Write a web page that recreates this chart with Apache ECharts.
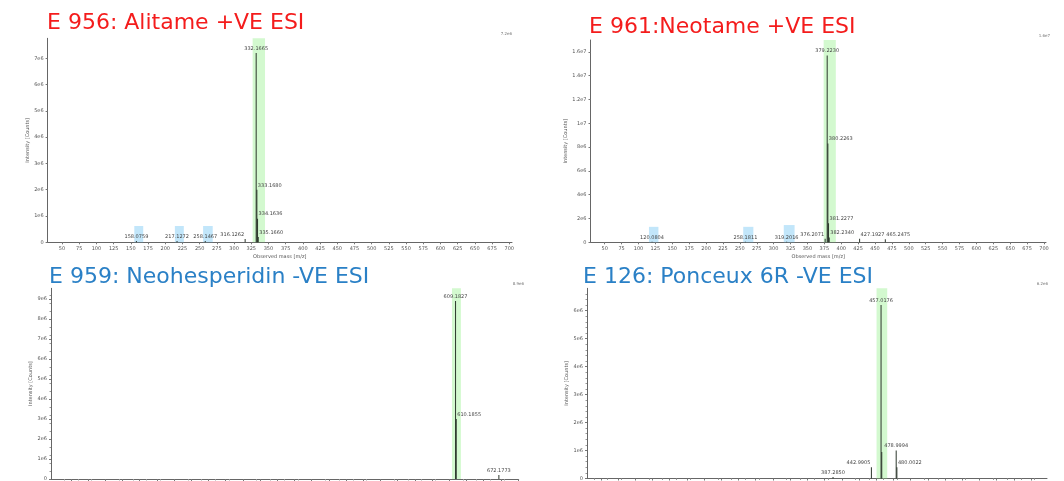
<!DOCTYPE html>
<html>
<head>
<meta charset="utf-8">
<script src="https://cdn.jsdelivr.net/npm/echarts@6/dist/echarts.min.js"></script>
<style>
html, body { margin: 0; padding: 0; background: #fff; }
#main { width: 1064px; height: 481px; }
</style>
</head>
<body>
<div id="main"></div>
<script>
// mass axis ticks (same for all four spectra)
const massTicks = [50, 75, 100, 125, 150, 175, 200, 225, 250, 275, 300, 325, 350, 375, 400,
  425, 450, 475, 500, 525, 550, 575, 600, 625, 650, 675, 700];

// E 956 Alitame +VE
const alitameMass = [158.0759, 217.1272, 258.1467, 316.1262, 332.1665, 333.1680, 334.1636, 335.1660];
const alitameCounts = [5e4, 5e4, 5e4, 1.3e5, 7.2e6, 2.0e6, 9.0e5, 2.0e5];
const alitameLabels = ['158.0759', '217.1272', '258.1467', '316.1262', '332.1665', '333.1680', '334.1636', '335.1660'];
const alitameTicks = [0, 1e6, 2e6, 3e6, 4e6, 5e6, 6e6, 7e6];
const alitameMatch = [327, 345];
const alitameFrags = [[155, 168], [214, 227], [255, 269]];
const alitameFragTop = [6.2e5, 6.2e5, 6.2e5];

// E 961 Neotame +VE
const neotameMass = [120.0804, 258.1811, 319.2016, 376.2071, 379.2230, 380.2263, 381.2277, 382.2340, 427.1927, 465.2475];
const neotameCounts = [5e4, 5e4, 5e4, 3e5, 1.57e7, 8.3e6, 1.6e6, 4e5, 3e5, 2.5e5];
const neotameLabels = ['120.0804', '258.1811', '319.2016', '376.2071', '379.2230', '380.2263', '381.2277', '382.2340', '427.1927', '465.2475'];
const neotameTicks = [0, 2e6, 4e6, 6e6, 8e6, 1e7, 1.2e7, 1.4e7, 1.6e7];
const neotameMatch = [374, 392];
const neotameFrags = [[115.5, 129.5], [255, 270], [315, 331]];
const neotameFragTop = [1.3e6, 1.3e6, 1.45e6];

// E 959 Neohesperidin -VE
const neohespMass = [609.1827, 610.1855, 672.1773];
const neohespCounts = [8.9e6, 3.0e6, 2e5];
const neohespLabels = ['609.1827', '610.1855', '672.1773'];
const neohespTicks = [0, 1e6, 2e6, 3e6, 4e6, 5e6, 6e6, 7e6, 8e6, 9e6];
const neohespMatch = [604, 617];

// E 126 Ponceux 6R -VE
const ponceauMass = [387.2850, 442.9905, 457.0176, 458.0205, 478.9994, 480.0022];
const ponceauCounts = [5e4, 4e5, 6.2e6, 9.5e5, 1.0e6, 4e5];
const ponceauLabels = ['387.2850', '442.9905', '457.0176', '', '478.9994', '480.0022'];
const ponceauTicks = [0, 1e6, 2e6, 3e6, 4e6, 5e6, 6e6];
const ponceauMatch = [450.5, 466];

// which peak labels sit beside the stick instead of centred on it
const labelAlign = {
  '316.1262': 'right', '333.1680': 'left', '334.1636': 'left', '335.1660': 'left',
  '376.2071': 'right', '380.2263': 'left', '381.2277': 'left', '382.2340': 'left',
  '427.1927': 'left', '465.2475': 'left', '610.1855': 'left',
  '442.9905': 'right', '480.0022': 'left'
};

const font = 'DejaVu Sans';
const red = '#f41c1c';
const blue = '#2a80c6';

function countFmt(v) {
  if (v === 0) return '0';
  const e = Math.floor(Math.log10(v) + 1e-9);
  const m = Math.round(v / Math.pow(10, e) * 10) / 10;
  return m + 'e' + e;
}

function panelAxes(i, min, max, yMax, yTicks, minor) {
  const axisLine = { lineStyle: { color: '#666', width: 1 } };
  return {
    x: {
      type: 'value', gridIndex: i, min: min, max: max,
      splitLine: { show: false },
      axisLine: axisLine,
      axisTick: { customValues: massTicks, length: 2, lineStyle: { color: '#777' } },
      minorTick: { show: minor, splitNumber: 5, length: 1.5, lineStyle: { color: '#999' } },
      axisLabel: { customValues: massTicks, fontSize: 5, color: '#555', margin: 4, fontFamily: font },
      name: 'Observed mass [m/z]', nameLocation: 'middle', nameGap: 12,
      nameTextStyle: { fontSize: 5, color: '#555', fontFamily: font }
    },
    y: {
      type: 'value', gridIndex: i, min: 0, max: yMax,
      splitLine: { show: false },
      axisLine: { show: true, lineStyle: { color: '#666', width: 1 } },
      axisTick: { show: true, customValues: yTicks, length: 2, lineStyle: { color: '#777' } },
      minorTick: { show: minor, splitNumber: 5, length: 1.5, lineStyle: { color: '#999' } },
      axisLabel: { customValues: yTicks, fontSize: 5, color: '#555', margin: 4, fontFamily: font, formatter: countFmt },
      name: 'Intensity [Counts]', nameLocation: 'middle', nameGap: 14,
      nameTextStyle: { fontSize: 5, color: '#555', fontFamily: font }
    }
  };
}

function spectrum(i, mass, counts, labels, match, frags, fragTop) {
  const areas = [[{ xAxis: match[0], itemStyle: { color: 'rgba(150, 240, 140, 0.42)' } }, { xAxis: match[1] }]];
  (frags || []).forEach(function (f, k) {
    areas.push([{ coord: [f[0], 0], itemStyle: { color: 'rgba(120, 200, 245, 0.45)' } }, { coord: [f[1], fragTop[k]] }]);
  });
  return {
    type: 'bar', xAxisIndex: i, yAxisIndex: i, barWidth: 1,
    itemStyle: { color: '#2c362c' },
    label: { show: true, position: 'top', distance: 2, fontSize: 5, color: '#444', fontFamily: font },
    data: mass.map(function (m, k) {
      const a = labelAlign[labels[k]] || 'center';
      return {
        value: [m, counts[k]],
        label: {
          show: labels[k] !== '', formatter: labels[k], align: a,
          offset: [a === 'left' ? 1 : (a === 'right' ? -1 : 0), 0]
        }
      };
    }),
    markArea: { silent: true, data: areas }
  };
}

const a1 = panelAxes(0, 29, 704, 7.76e6, alitameTicks, false);
const a2 = panelAxes(1, 29, 703, 1.70e7, neotameTicks, false);
const a3 = panelAxes(2, 21, 701, 9.53e6, neohespTicks, true);
const a4 = panelAxes(3, 30, 698, 6.8e6, ponceauTicks, true);

const chart = echarts.init(document.getElementById('main'));
chart.setOption({
  animation: false,
  backgroundColor: '#fff',
  title: [
    { text: 'E 956: Alitame +VE ESI', left: 47, top: 12, padding: 0, textStyle: { color: red, fontSize: 22, fontWeight: 'normal', fontFamily: font } },
    { text: 'E 961:Neotame +VE ESI', left: 589, top: 16, padding: 0, textStyle: { color: red, fontSize: 22, fontWeight: 'normal', fontFamily: font } },
    { text: 'E 959: Neohesperidin -VE ESI', left: 49, top: 266, padding: 0, textStyle: { color: blue, fontSize: 22, fontWeight: 'normal', fontFamily: font } },
    { text: 'E 126: Ponceux 6R -VE ESI', left: 583, top: 266, padding: 0, textStyle: { color: blue, fontSize: 22, fontWeight: 'normal', fontFamily: font } },
    { text: '7.2e6', right: 552, top: 32, padding: 0, textStyle: { color: '#777', fontSize: 4, fontWeight: 'normal', fontFamily: font } },
    { text: '1.6e7', right: 14, top: 34, padding: 0, textStyle: { color: '#777', fontSize: 4, fontWeight: 'normal', fontFamily: font } },
    { text: '8.9e6', right: 540, top: 282, padding: 0, textStyle: { color: '#777', fontSize: 4, fontWeight: 'normal', fontFamily: font } },
    { text: '6.2e6', right: 16, top: 282, padding: 0, textStyle: { color: '#777', fontSize: 4, fontWeight: 'normal', fontFamily: font } }
  ],
  grid: [
    { left: 47.6, top: 38.3, width: 464.4, height: 204, outerBoundsMode: 'none' },
    { left: 590.5, top: 40, width: 455.5, height: 202.3, outerBoundsMode: 'none' },
    { left: 51, top: 288.3, width: 467.7, height: 190.7, outerBoundsMode: 'none' },
    { left: 587, top: 288.3, width: 460, height: 190.2, outerBoundsMode: 'none' }
  ],
  xAxis: [a1.x, a2.x, a3.x, a4.x],
  yAxis: [a1.y, a2.y, a3.y, a4.y],
  series: [
    spectrum(0, alitameMass, alitameCounts, alitameLabels, alitameMatch, alitameFrags, alitameFragTop),
    spectrum(1, neotameMass, neotameCounts, neotameLabels, neotameMatch, neotameFrags, neotameFragTop),
    spectrum(2, neohespMass, neohespCounts, neohespLabels, neohespMatch),
    spectrum(3, ponceauMass, ponceauCounts, ponceauLabels, ponceauMatch)
  ]
});
</script>
</body>
</html>
